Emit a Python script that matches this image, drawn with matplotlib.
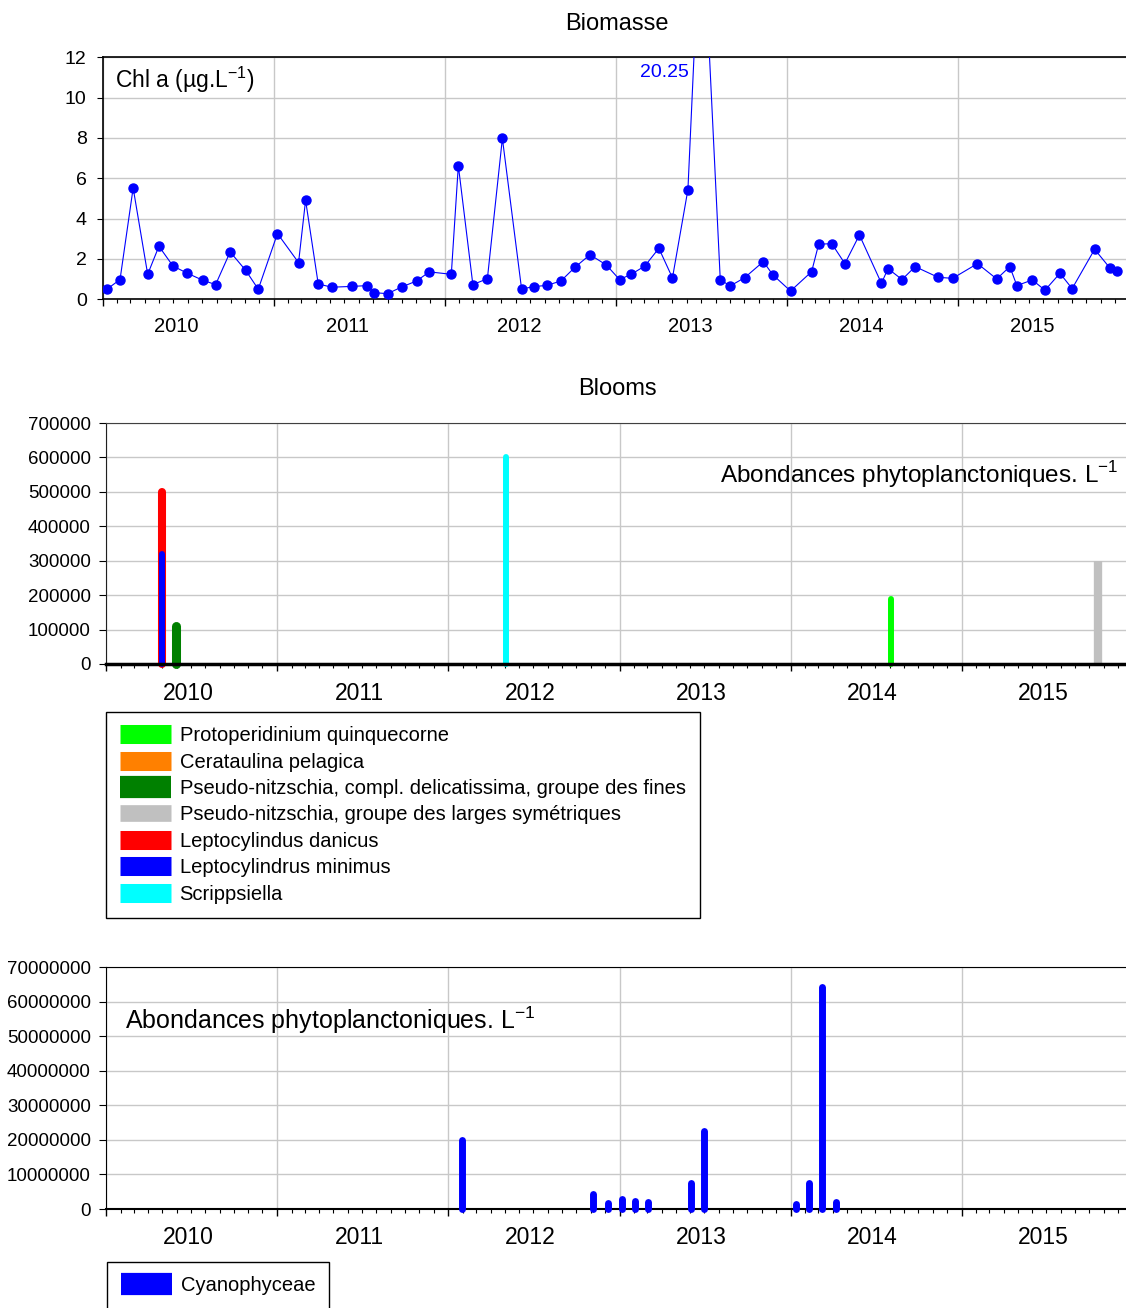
import numpy as np
import pandas as pd
import matplotlib
matplotlib.use("Agg")
import matplotlib.pyplot as plt
import matplotlib.dates as mdates
import matplotlib.ticker as mticker
from matplotlib.lines import Line2D
from matplotlib.transforms import offset_copy

plt.rcParams['font.family'] = ['Liberation Sans', 'DejaVu Sans']
plt.rcParams['mathtext.fontset'] = 'custom'
plt.rcParams['mathtext.rm'] = 'Liberation Sans'

# Chl a (µg/L)
chl_dates = [
    "2010-01-10", "2010-02-07", "2010-03-07", "2010-04-07", "2010-05-01", "2010-05-31",
    "2010-06-29", "2010-08-03", "2010-08-30", "2010-09-30", "2010-11-02", "2010-11-29",
    "2011-01-09", "2011-02-23", "2011-03-10", "2011-04-06", "2011-05-05", "2011-06-18",
    "2011-07-20", "2011-08-02", "2011-09-01", "2011-10-01", "2011-11-02", "2011-11-29",
    "2012-01-15", "2012-01-30", "2012-03-01", "2012-04-01", "2012-05-03", "2012-06-13",
    "2012-07-09", "2012-08-06", "2012-09-05", "2012-10-05", "2012-11-06", "2012-12-11",
    "2013-01-08", "2013-02-02", "2013-03-03", "2013-04-02", "2013-05-01", "2013-06-03",
    "2013-07-02", "2013-08-11", "2013-09-01", "2013-10-02", "2013-11-11", "2013-12-01",
    "2014-01-08", "2014-02-22", "2014-03-09", "2014-04-06", "2014-05-04", "2014-06-04",
    "2014-07-21", "2014-08-04", "2014-09-03", "2014-10-01", "2014-11-19", "2014-12-20",
    "2015-02-11", "2015-03-24", "2015-04-21", "2015-05-06", "2015-06-08", "2015-07-05",
    "2015-08-06", "2015-09-01", "2015-10-19", "2015-11-21", "2015-12-06",
]
chl_values = [
    0.50, 0.98, 5.52, 1.24, 2.63, 1.65, 1.31, 0.94, 0.73, 2.35, 1.44, 0.50,
    3.26, 1.82, 4.91, 0.76, 0.60, 0.64, 0.68, 0.33, 0.28, 0.61, 0.91, 1.36,
    1.24, 6.63, 0.73, 1.02, 7.98, 0.51, 0.63, 0.69, 0.91, 1.59, 2.21, 1.70,
    0.98, 1.24, 1.65, 2.53, 1.06, 5.44, 20.25, 0.98, 0.66, 1.07, 1.87, 1.22,
    0.41, 1.37, 2.73, 2.76, 1.77, 3.19, 0.79, 1.52, 0.98, 1.62, 1.09, 1.04,
    1.77, 1.01, 1.62, 0.68, 0.96, 0.45, 1.29, 0.53, 2.48, 1.54, 1.40,
]

# Blooms (cells/L)
bloom_taxa = [
    "Protoperidinium quinquecorne",
    "Cerataulina pelagica",
    "Pseudo-nitzschia, compl. delicatissima, groupe des fines",
    "Pseudo-nitzschia, groupe des larges symétriques",
    "Leptocylindus danicus",
    "Leptocylindrus minimus",
    "Scrippsiella",
]
bloom_dates = ["2014-08-04", "2010-05-01", "2010-05-31", "2015-10-19",
               "2010-05-01", "2010-05-01", "2012-05-03"]
bloom_values = [190000, 400000, 110000, 300000, 500000, 320000, 600000]

# Cyanophyceae (cells/L)
cyano_dates = ["2012-01-31", "2012-11-06", "2012-12-08", "2013-01-06", "2013-02-03",
               "2013-03-03", "2013-06-02", "2013-07-01", "2014-01-12", "2014-02-09",
               "2014-03-09", "2014-04-07"]
cyano_values = [20000000, 4400000, 1800000, 2900000, 2400000, 2100000,
                7500000, 22600000, 1350000, 7400000, 64100000, 2100000]

years = [2010, 2011, 2012, 2013, 2014, 2015]

# styles
bloom_colors = ["#00ff00", "#ff8000", "#008000", "#c0c0c0", "#ff0000", "#0000ff", "#00ffff"]
bloom_lw = [4.3, 4.3, 6.5, 6.0, 5.8, 4.3, 4.3]
bloom_caps = ["round", "round", "round", "butt", "round", "round", "round"]
legend_lw = [13.7, 13.7, 16.0, 12.0, 13.7, 13.7, 13.7]
grid_c = "#c8c8c8"
unit_txt = r"Abondances phytoplanctoniques. L$^{\mathregular{-1}}$"

W, H = 1126, 1308
fig = plt.figure(figsize=(W / 100, H / 100), dpi=100)


def px_axes(x0, y0, x1, y1):
    return fig.add_axes([x0 / W, 1 - y1 / H, (x1 - x0) / W, (y1 - y0) / H])


def setup_xaxis(ax, label_day, label_off, fs):
    ax.set_xlim(pd.Timestamp("2010-01-01"), pd.Timestamp("2016-01-01"))
    ax.xaxis.set_major_locator(mdates.YearLocator())
    ax.xaxis.set_minor_locator(mdates.MonthLocator())
    ax.xaxis.set_major_formatter(mticker.NullFormatter())
    ax.tick_params(axis="x", which="major", direction="out", length=5, width=1)
    ax.tick_params(axis="x", which="minor", direction="out", length=3, width=0.8)
    tr = offset_copy(ax.get_xaxis_transform(), fig=fig, x=0, y=label_off, units="dots")
    for yr in years:
        ax.text(mdates.date2num(pd.Timestamp(f"{yr}-{label_day}")), 0, str(yr),
                transform=tr, ha="center", va="center", fontsize=fs)
    ax.grid(True, which="major", color=grid_c, lw=1.0)
    ax.set_axisbelow(True)
    ax.spines["right"].set_visible(False)


leg_kw = dict(loc="upper left", borderaxespad=0, fontsize=14.5, frameon=True, fancybox=False,
              edgecolor="black", framealpha=1, borderpad=0.7, labelspacing=0.37,
              handlelength=2.55, handletextpad=0.4)

# ---- Biomasse ----
ax1 = px_axes(102.7, 57.3, 1129.3, 299.3)
d = pd.to_datetime(chl_dates)
v = np.array(chl_values)
ax1.plot(d, v, color="#0000ff", lw=0.8, marker="o", ms=6.5, zorder=3)
ax1.set_ylim(0, 12)
ax1.set_yticks(np.arange(0, 13, 2))
ax1.tick_params(axis="y", direction="out", length=4.5, pad=7, labelsize=14)
setup_xaxis(ax1, "06-08", -27, 14.5)
for s in ["top", "left", "bottom"]:
    ax1.spines[s].set_color("black")
    ax1.spines[s].set_linewidth(1.2)
ax1.annotate(r"Chl a (µg.L$^{\mathregular{-1}}$)", xy=(0, 1), xycoords="axes fraction",
             xytext=(12, -23), textcoords="offset pixels", ha="left", va="center", fontsize=16.5)
imax = int(np.argmax(v))
ax1.annotate(f"{v[imax]:.2f}", xy=(d[imax], 12), xycoords="data",
             xytext=(-13, -15), textcoords="offset pixels", ha="right", va="center",
             fontsize=14, color="#0000ff")
fig.text(617 / W, 1 - 24 / H, "Biomasse", ha="center", va="center", fontsize=17)

# ---- Blooms ----
ax2 = px_axes(106, 423, 1132.6, 664)
handles = []
for taxon, dt, val, c, lw, cap, llw in zip(bloom_taxa, bloom_dates, bloom_values, bloom_colors,
                                           bloom_lw, bloom_caps, legend_lw):
    t = pd.Timestamp(dt)
    ax2.plot([t, t], [0, val], color=c, lw=lw, solid_capstyle=cap, clip_on=False, zorder=3)
    handles.append(Line2D([], [], color=c, lw=llw, solid_capstyle="butt", label=taxon))
ax2.set_ylim(0, 700000)
ax2.set_yticks(np.arange(0, 700001, 100000))
ax2.yaxis.set_major_formatter(mticker.StrMethodFormatter("{x:.0f}"))
ax2.tick_params(axis="y", direction="out", length=5, pad=6, labelsize=13.5)
setup_xaxis(ax2, "06-25", -29, 16.5)
ax2.spines["top"].set_color("#404040")
ax2.spines["left"].set_color("#202020")
ax2.spines["bottom"].set_linewidth(2.5)
ax2.spines["bottom"].set_zorder(4)
ax2.annotate(unit_txt, xy=(0, 1), xycoords="axes fraction", xytext=(614, -52),
             textcoords="offset pixels", ha="left", va="center", fontsize=17.5)
fig.text(617 / W, 1 - 389 / H, "Blooms", ha="center", va="center", fontsize=17)
fig.legend(handles=handles, bbox_to_anchor=(106 / W, 1 - 712 / H), **leg_kw)

# ---- Cyanophyceae ----
ax3 = px_axes(106, 967, 1132.6, 1209)
for dt, val in zip(cyano_dates, cyano_values):
    t = pd.Timestamp(dt)
    ax3.plot([t, t], [0, val], color="#0000ff", lw=5, solid_capstyle="round",
             clip_on=False, zorder=3)
ax3.set_ylim(0, 70000000)
ax3.set_yticks(np.arange(0, 70000001, 10000000))
ax3.yaxis.set_major_formatter(mticker.StrMethodFormatter("{x:.0f}"))
ax3.tick_params(axis="y", direction="out", length=5, pad=6, labelsize=13.5)
setup_xaxis(ax3, "06-25", -29, 16.5)
ax3.spines["bottom"].set_linewidth(1.5)
ax3.annotate(unit_txt, xy=(0, 1), xycoords="axes fraction", xytext=(19, -53),
             textcoords="offset pixels", ha="left", va="center", fontsize=18)
cy_handle = Line2D([], [], color="#0000ff", lw=16.0, solid_capstyle="butt", label="Cyanophyceae")
fig.legend(handles=[cy_handle], bbox_to_anchor=(107 / W, 1 - 1262 / H), **leg_kw)

fig.savefig("out.png", dpi=100)
